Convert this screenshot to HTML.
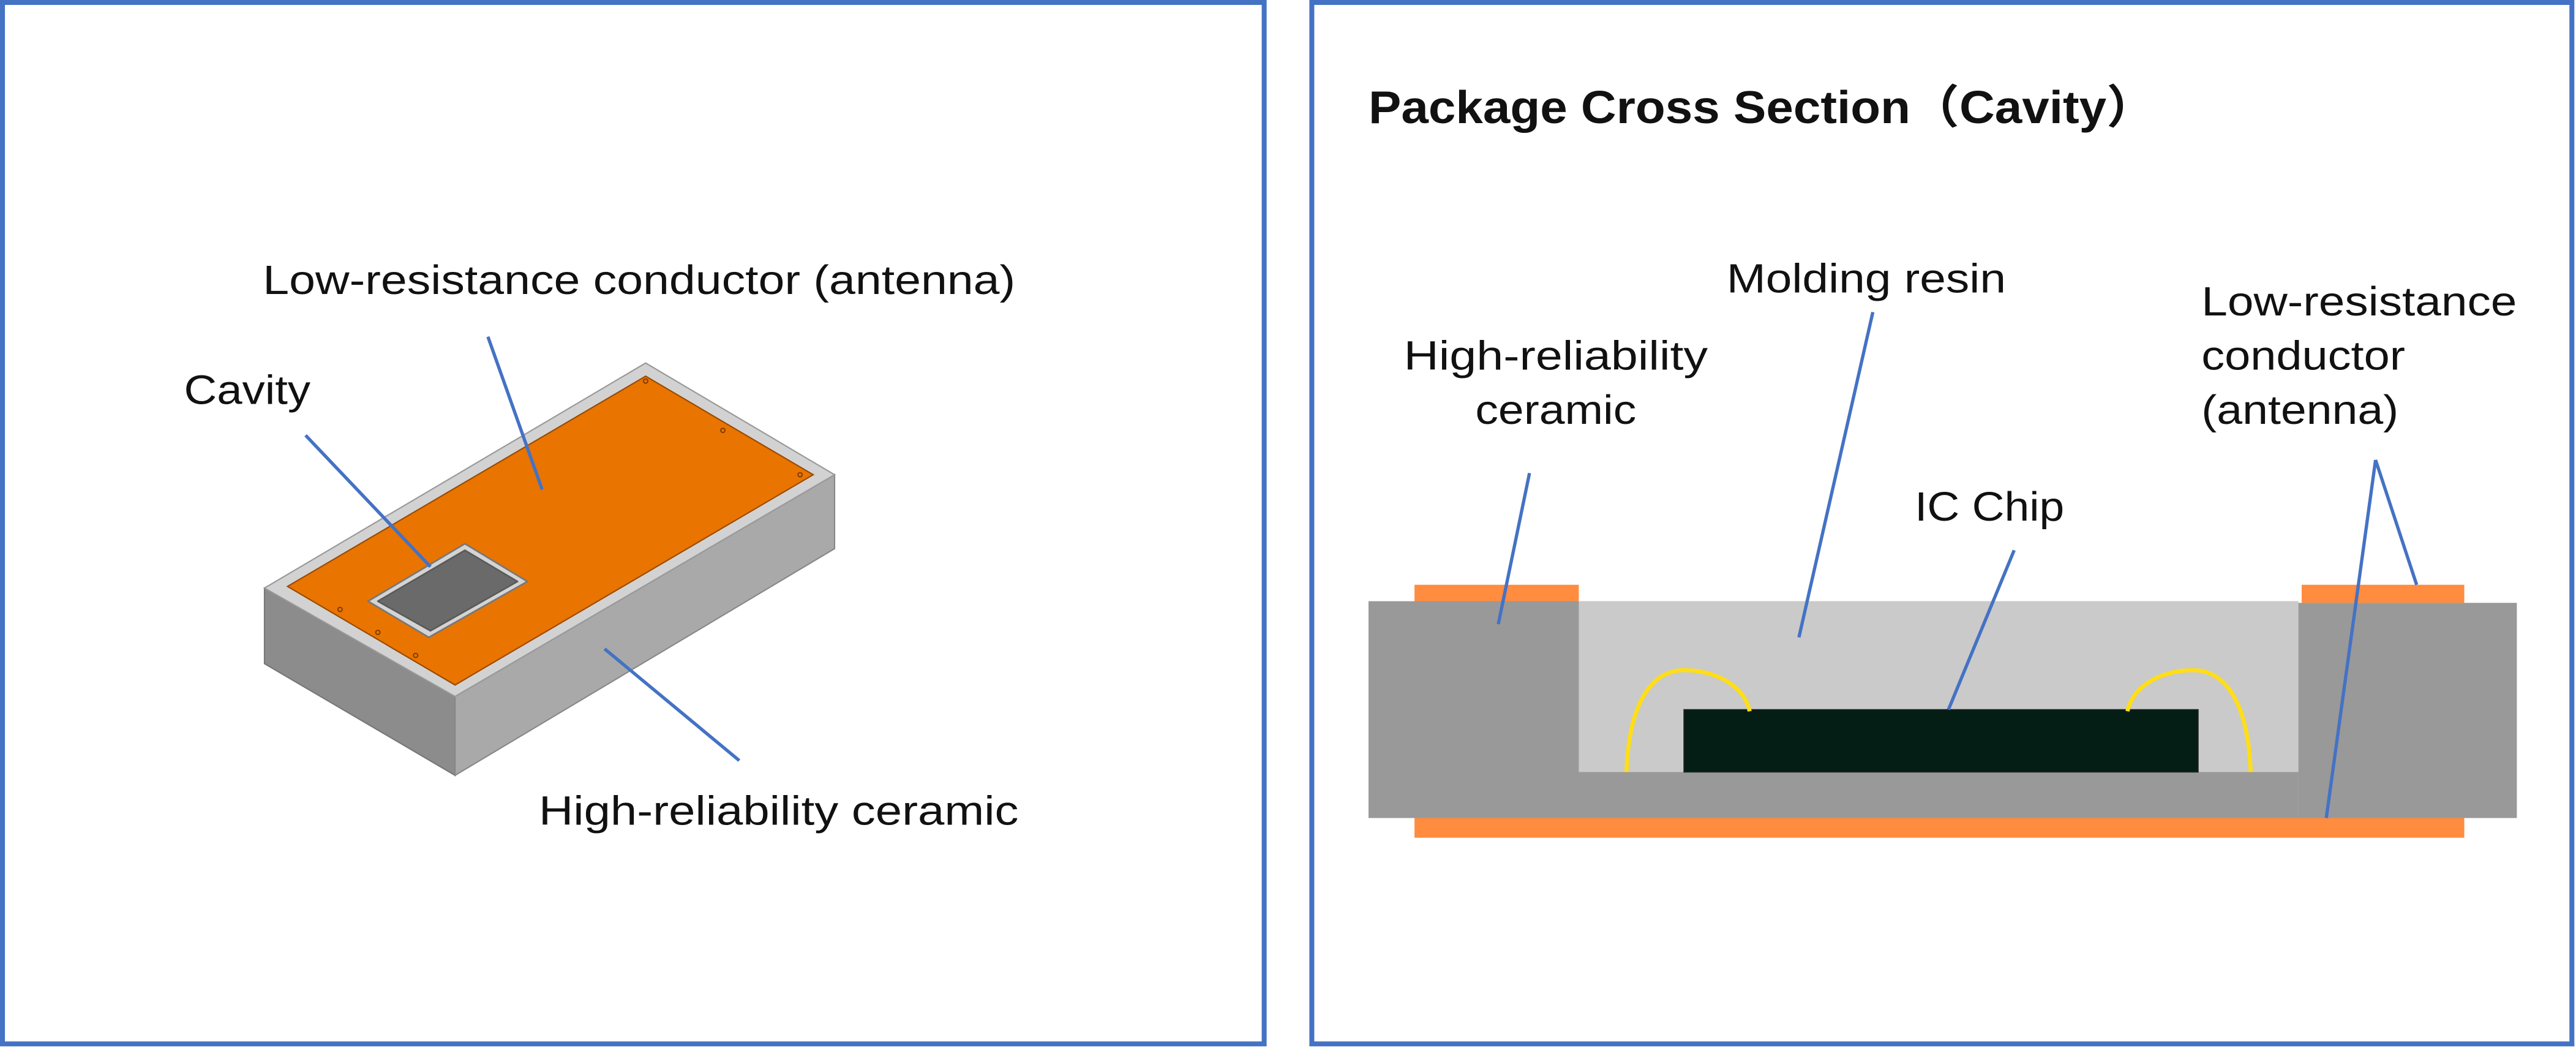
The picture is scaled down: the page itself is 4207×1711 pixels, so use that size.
<!DOCTYPE html>
<html><head><meta charset="utf-8"><style>
html,body{margin:0;padding:0;background:#fff;}
svg{display:block;}
text{font-family:"Liberation Sans","Noto Sans CJK JP",sans-serif;fill:#111;}
</style></head><body>
<svg width="4207" height="1711" viewBox="0 0 1568 638" preserveAspectRatio="none" xmlns="http://www.w3.org/2000/svg">
<rect x="0" y="0" width="1568" height="638" fill="#fff"/>
<rect x="1.5" y="1.5" width="768" height="634" fill="none" stroke="#4472C4" stroke-width="3"/>
<rect x="798.5" y="1.5" width="767" height="634" fill="none" stroke="#4472C4" stroke-width="3"/>

<!-- left 3D box -->
<polygon points="161,358 277,424 277,472 161,404" fill="#8c8c8c" stroke="#777" stroke-width="0.8"/>
<polygon points="277,424 508,289 508,334 277,472" fill="#a9a9a9" stroke="#888" stroke-width="0.8"/>
<polygon points="161,358 393,221 508,289 277,424" fill="#d2d2d2" stroke="#999" stroke-width="0.8"/>
<polygon points="175,357 393,229 495,289 277,417" fill="#E97400" stroke="#9a4a00" stroke-width="0.8"/>
<polygon points="224,366 283,331 321,354 261,388" fill="#d4d4d4" stroke="#777" stroke-width="1" stroke-linejoin="round"/>
<polygon points="230,366 283,335 315,354 262,384" fill="#6a6a6a" stroke="#5a5a5a" stroke-width="1" stroke-linejoin="round"/>
<g fill="none" stroke="#7a3a00" stroke-width="0.7">
<circle cx="393" cy="232" r="1.3"/><circle cx="440" cy="262" r="1.3"/><circle cx="487" cy="289" r="1.3"/>
<circle cx="207" cy="371" r="1.3"/><circle cx="230" cy="385" r="1.3"/><circle cx="253" cy="399" r="1.3"/>
</g>
<g stroke="#4472C4" stroke-width="2">
<line x1="297" y1="205" x2="330" y2="298"/>
<line x1="186" y1="265" x2="262" y2="345"/>
<line x1="368" y1="395" x2="450" y2="463"/>
</g>
<text x="160" y="179" font-size="25" textLength="458" lengthAdjust="spacingAndGlyphs">Low-resistance conductor (antenna)</text>
<text x="112" y="246" font-size="25" textLength="77" lengthAdjust="spacingAndGlyphs">Cavity</text>
<text x="328" y="502" font-size="25" textLength="292" lengthAdjust="spacingAndGlyphs">High-reliability ceramic</text>

<!-- right cross section -->
<text x="833" y="75" font-size="28" font-weight="bold" textLength="479" lengthAdjust="spacingAndGlyphs">Package Cross Section（Cavity）</text>
<rect x="861" y="356" width="100" height="11" fill="#FF8C3F"/>
<rect x="1401" y="356" width="99" height="11" fill="#FF8C3F"/>
<rect x="861" y="497" width="639" height="13" fill="#FF8C3F"/>
<rect x="833" y="366" width="566" height="132" fill="#999"/>
<rect x="1399" y="367" width="133" height="131" fill="#999"/>
<rect x="961" y="366" width="438" height="104" fill="#cacaca"/>
<rect x="1025" y="432" width="313" height="38" fill="#041E16" stroke="#222" stroke-width="0.6"/>
<g fill="none" stroke="#FFDE17" stroke-width="2.5">
<path d="M990,470 C992,420 1010,408 1025,408 C1045,408 1062,418 1065,433"/>
<path d="M1295,433 C1298,418 1315,408 1335,408 C1350,408 1368,420 1370,470"/>
</g>
<g stroke="#4472C4" stroke-width="2">
<line x1="931" y1="288" x2="912" y2="380"/>
<line x1="1140" y1="190" x2="1095" y2="388"/>
<line x1="1226" y1="335" x2="1186" y2="432"/>
<line x1="1446" y1="280" x2="1471" y2="356"/>
<line x1="1446" y1="280" x2="1416" y2="498"/>
</g>
<text x="1136" y="178" font-size="25" text-anchor="middle" textLength="170" lengthAdjust="spacingAndGlyphs">Molding resin</text>
<text x="947" y="225" font-size="25" text-anchor="middle" textLength="185" lengthAdjust="spacingAndGlyphs">High-reliability</text>
<text x="947" y="258" font-size="25" text-anchor="middle" textLength="98" lengthAdjust="spacingAndGlyphs">ceramic</text>
<text x="1340" y="192" font-size="25" textLength="192" lengthAdjust="spacingAndGlyphs">Low-resistance</text>
<text x="1340" y="225" font-size="25" textLength="124" lengthAdjust="spacingAndGlyphs">conductor</text>
<text x="1340" y="258" font-size="25" textLength="120" lengthAdjust="spacingAndGlyphs">(antenna)</text>
<text x="1211" y="317" font-size="25" text-anchor="middle" textLength="91" lengthAdjust="spacingAndGlyphs">IC Chip</text>
</svg>
</body></html>
